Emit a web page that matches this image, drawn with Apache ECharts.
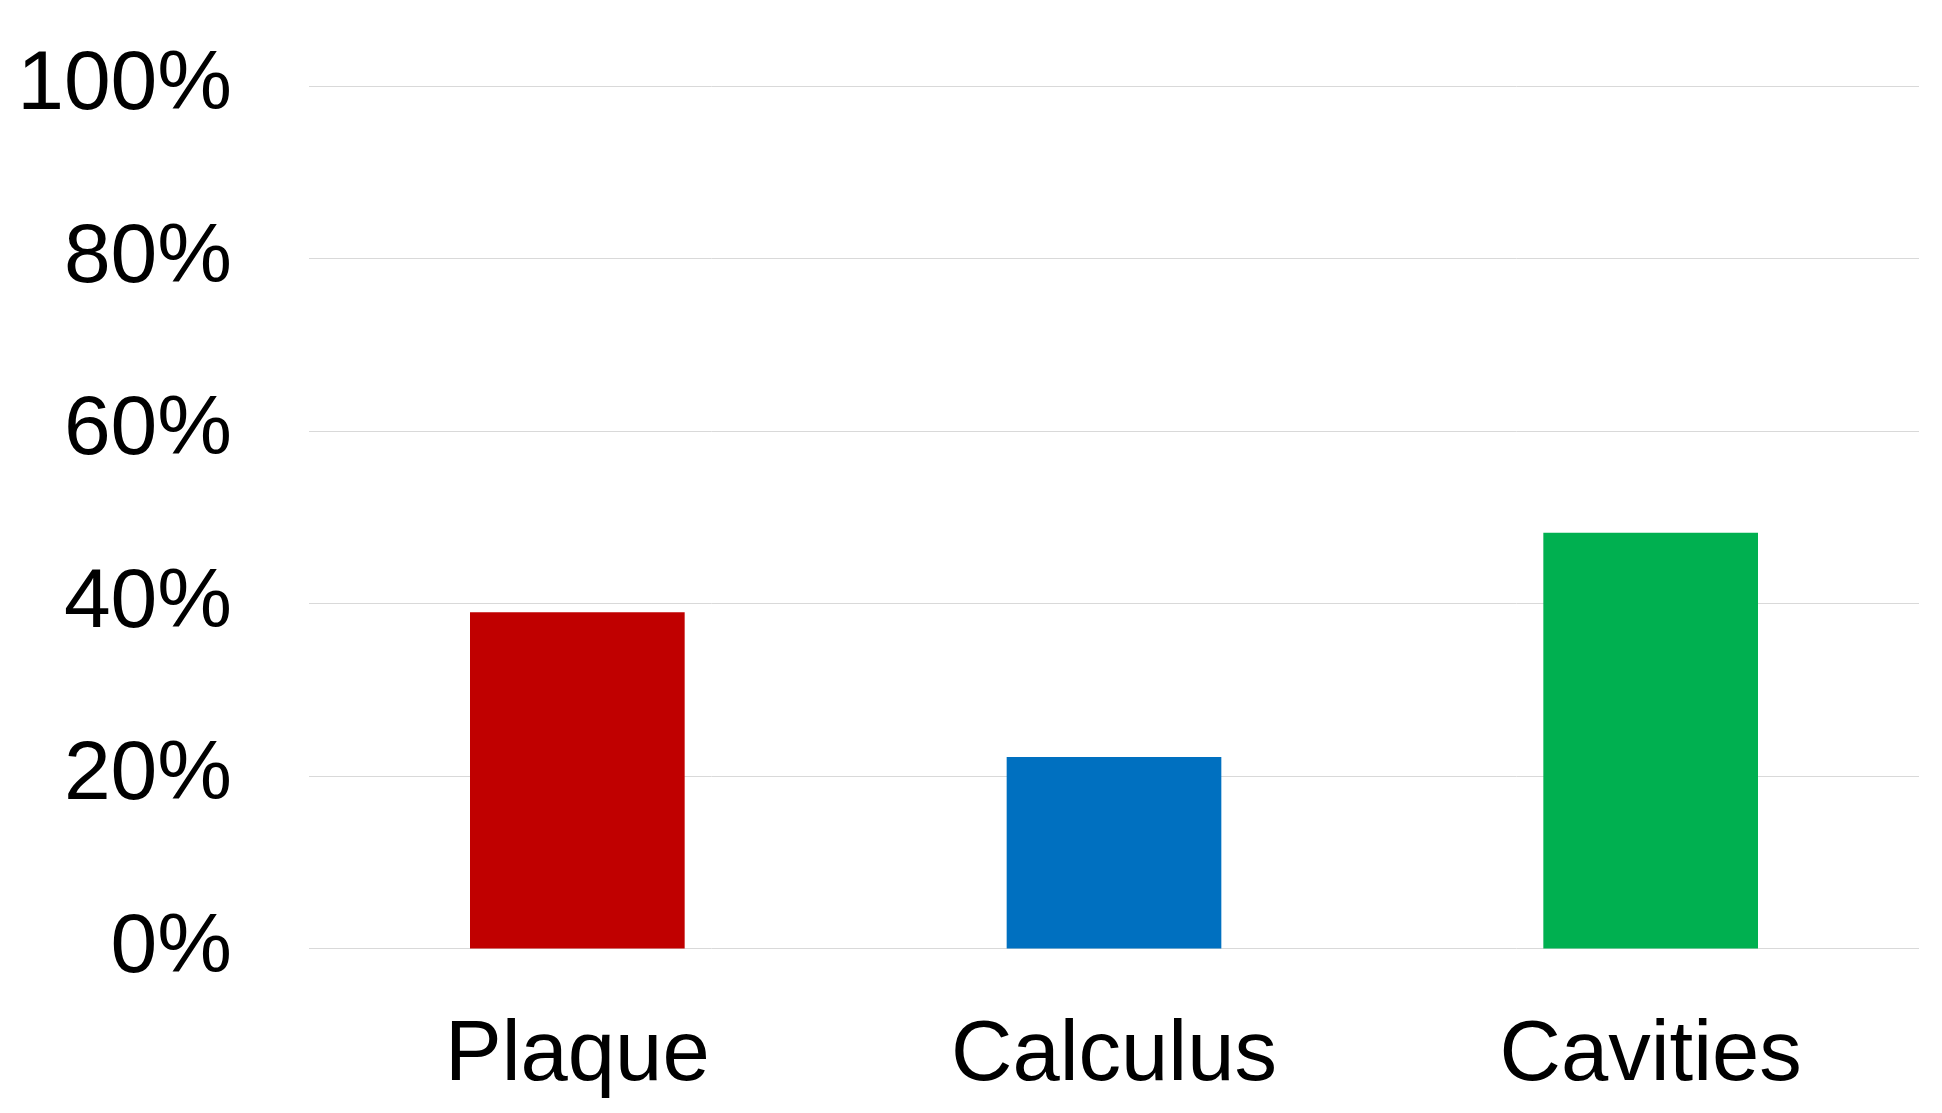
<!DOCTYPE html>
<html>
<head>
<meta charset="utf-8">
<script src="https://cdn.jsdelivr.net/npm/echarts@6/dist/echarts.min.js"></script>
<style>
  html, body { margin: 0; padding: 0; background: #fff; }
  #main { width: 1942px; height: 1113px; }
</style>
</head>
<body>
<div id="main"></div>
<script>
// categories and values (percent)
var categories = ['Plaque', 'Calculus', 'Cavities'];
var values = [39.0, 22.2, 48.2];
var barColors = ['#C00000', '#0070C0', '#00B050'];

var myChart = echarts.init(document.getElementById('main'));

var barData = [];
for (var i = 0; i < values.length; i++) {
    barData.push({
        value: values[i],
        itemStyle: { color: barColors[i] }
    });
}

var option = {
    animation: false,
    backgroundColor: '#fff',
    grid: {
        left: 309,
        right: 23,
        top: 86,
        bottom: 164.5,
        containLabel: false,
        outerBoundsMode: 'none'
    },
    xAxis: {
        type: 'category',
        data: categories,
        axisLine: { show: false },
        axisTick: { show: false },
        axisLabel: {
            color: '#000',
            fontFamily: 'Liberation Sans',
            fontSize: 85,
            margin: 66
        }
    },
    yAxis: {
        type: 'value',
        min: 0,
        max: 100,
        interval: 20,
        axisLine: { show: false },
        axisTick: { show: false },
        splitLine: { lineStyle: { color: '#d9d9d9', width: 1 } },
        axisLabel: {
            color: '#000',
            fontFamily: 'Liberation Sans',
            fontSize: 84,
            margin: 77,
            padding: [6, 0, 0, 0],
            formatter: '{value}%'
        }
    },
    series: [{
        type: 'bar',
        barWidth: '40%',
        data: barData
    }]
};

myChart.setOption(option);
</script>
</body>
</html>
